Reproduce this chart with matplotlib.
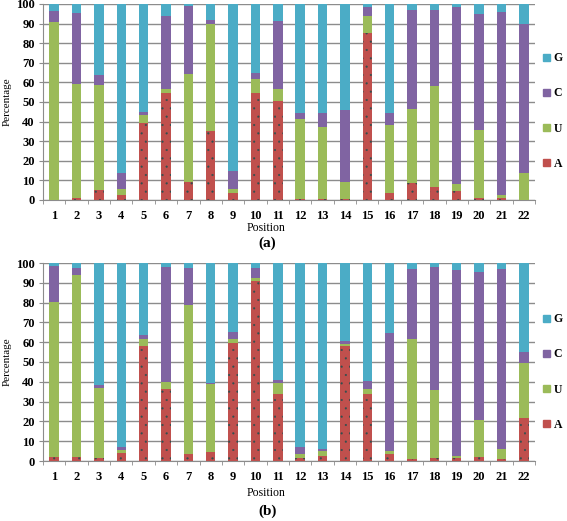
import numpy as np
import matplotlib
matplotlib.use("Agg")
import matplotlib.pyplot as plt
from matplotlib.patches import Patch

positions = list(range(1, 23))

# cumulative tops, turned into per-base percentages below
# panel (a)
a_top_A = [0, 1, 5, 2.5, 39.5, 54.5, 9, 35, 3.5, 54.5, 50.5,
           0.5, 0.5, 0.5, 85, 3.5, 8.5, 6.5, 4.5, 1, 1, 0]
a_top_U = [91, 59, 58.5, 5.5, 43.5, 56.5, 64.5, 90, 5.5, 61.5, 56.5,
           41.5, 37, 9, 94, 38.5, 46.5, 58, 8, 35.5, 2.5, 14]
a_top_C = [96.5, 95.5, 64, 14, 45, 94, 99, 92, 15, 65, 91.5,
           44.5, 44.5, 46, 98.5, 44.5, 97, 97, 98.5, 95, 96, 90]
# panel (b)
b_top_A = [2, 2, 1.5, 4, 58, 36.5, 3.5, 4.5, 59.5, 91, 34,
           1.5, 2.5, 58, 34, 3.5, 1, 1.5, 1.5, 2, 1, 21.5]
b_top_U = [80.5, 94, 37, 5.5, 61.5, 40, 79, 39, 61.5, 92.5, 39.5,
           3.5, 5, 59, 36.5, 5, 61.5, 36, 2.5, 20.5, 6, 49.5]
b_top_C = [98.5, 97.5, 38.5, 7, 63.5, 98, 97.5, 39.5, 65, 97.5, 41,
           7, 6, 60.5, 40.5, 64.5, 97, 98, 96.5, 95.5, 97, 55]

colors = {"A": "#c0504d", "U": "#9bbb59", "C": "#8064a2", "G": "#4bacc6"}

plt.rcParams['font.family'] = ['Liberation Serif', 'DejaVu Serif']
plt.rcParams['hatch.linewidth'] = 0.3


def draw_panel(ax, top_A, top_U, top_C):
    x = np.array(positions)
    tA = np.array(top_A)
    tU = np.array(top_U)
    tC = np.array(top_C)
    parts = [("A", 0, tA), ("U", tA, tU - tA), ("C", tU, tC - tU), ("G", tC, 100 - tC)]
    for name, bottom, height in parts:
        if name == "A":
            # the red segments carry a sparse dark stipple in the original
            ax.bar(x, height, bottom=bottom, width=0.42, facecolor=colors[name],
                   edgecolor="#2f4f4f", hatch="..", linewidth=0, zorder=3)
        else:
            ax.bar(x, height, bottom=bottom, width=0.42, color=colors[name],
                   linewidth=0, zorder=3)
    ax.set_xlim(0.5, 22.5)
    ax.set_ylim(0, 100)
    ax.set_yticks(range(0, 101, 10))
    ax.set_xticks(x)
    ax.set_xticks(np.arange(0.5, 23, 1), minor=True)
    ax.yaxis.grid(True, color="#8c8c8c", linewidth=1.0, zorder=0)
    ax.set_axisbelow(True)
    for s in ["top", "right"]:
        ax.spines[s].set_visible(False)
    ax.spines["left"].set_color("#8c8c8c")
    ax.spines["bottom"].set_color("#8c8c8c")
    ax.tick_params(axis="x", which="major", length=0, pad=7)
    ax.tick_params(axis="x", which="minor", length=3, color="#8c8c8c")
    ax.tick_params(axis="y", length=3, color="#8c8c8c", pad=3)
    for lab in ax.get_xticklabels() + ax.get_yticklabels():
        lab.set_fontweight("bold")
        lab.set_fontsize(9)
    ax.set_ylabel("Percentage", fontsize=8, labelpad=3)


fig = plt.figure(figsize=(5.67, 5.21), dpi=100)
ax_a = fig.add_axes([43 / 567, 1 - 200 / 521, (535 - 43) / 567, 196 / 521])
ax_b = fig.add_axes([43 / 567, 1 - 461 / 521, (535 - 43) / 567, 198 / 521])
draw_panel(ax_a, a_top_A, a_top_U, a_top_C)
draw_panel(ax_b, b_top_A, b_top_U, b_top_C)

fig.text(266 / 567, 1 - 228 / 521, "Position", ha="center", va="center", fontsize=8.5)
fig.text(267 / 567, 1 - 243 / 521, "(a)", ha="center", va="center", fontsize=11, fontweight="bold")
fig.text(266 / 567, 1 - 493 / 521, "Position", ha="center", va="center", fontsize=8.5)
fig.text(268 / 567, 1 - 511 / 521, "(b)", ha="center", va="center", fontsize=11, fontweight="bold")

handles = [Patch(color=colors[k], label=k) for k in ["G", "C", "U", "A"]]
for ax, cy in [(ax_a, 111), (ax_b, 372)]:
    fig.legend(handles=handles, loc="center left", bbox_to_anchor=(543 / 567, 1 - cy / 521),
               frameon=False, handlelength=0.6, handleheight=0.6, handletextpad=0.3,
               labelspacing=1.95, borderpad=0, borderaxespad=0,
               prop={"family": "Liberation Serif", "weight": "bold", "size": 8.5})

fig.savefig("out.png", dpi=100)
